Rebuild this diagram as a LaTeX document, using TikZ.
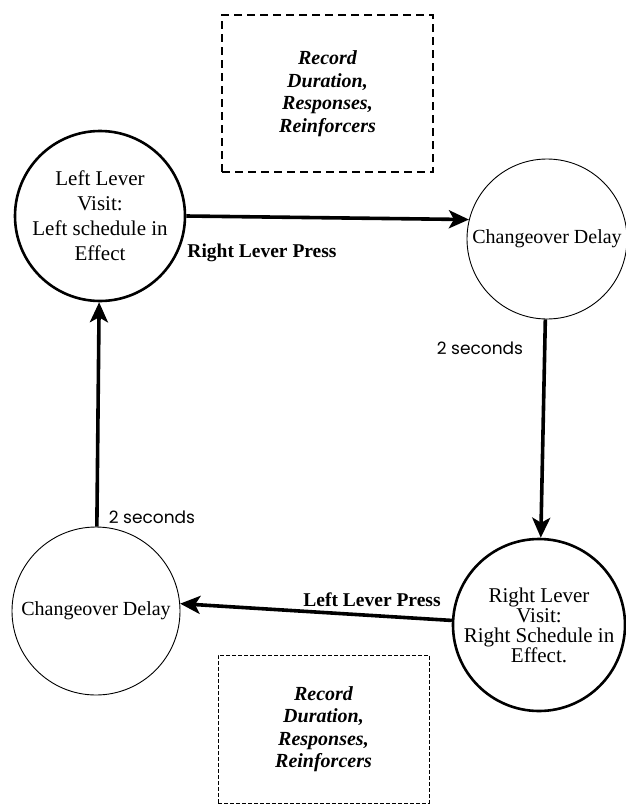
\documentclass[tikz,border=0pt]{standalone}
\usepackage{fontspec}
\setmainfont{Liberation Serif}
\newfontfamily\gothic{Poppins}
\usetikzlibrary{arrows.meta}
\begin{document}
\begin{tikzpicture}[x=1pt,y=-1pt,
  visit/.style={circle,draw,line width=2.6pt,minimum size=#1,inner sep=0pt,align=center,font=\fontsize{21}{25}\selectfont},
  delay/.style={circle,draw,line width=0.9pt,minimum size=#1,inner sep=0pt,font=\fontsize{20}{24}\selectfont},
  press/.style={-{Stealth[length=20pt,width=18pt,inset=5pt]},line width=3.6pt},
  lbl/.style={font=\bfseries\fontsize{19.5}{23}\selectfont},
  secs/.style={font=\gothic\fontsize{17}{20}\selectfont},
  recbox/.style={draw,minimum width=211pt,minimum height=157pt,align=center,font=\bfseries\itshape\fontsize{20}{22.5}\selectfont}]
\useasboundingbox (0,0) rectangle (626,809);
% the four states
\node[visit=170pt] (lvisit) at (100,216) {Left Lever\\Visit:\\Left schedule in\\Effect};
\node[delay=160pt] (cod1) at (547,239) {Changeover Delay};
\node[visit=172pt,font=\fontsize{21}{20}\selectfont] (rvisit) at (539,625) {Right Lever\\Visit:\\Right Schedule in\\Effect.};
\node[delay=168pt] (cod2) at (96,611) {Changeover Delay};
% what gets recorded
\node[recbox,line width=1.8pt,dash pattern=on 8pt off 5pt] (rec1) at (327.5,93.5) {Record\\Duration,\\Responses,\\Reinforcers};
\node[recbox,minimum height=148pt,line width=1pt,dash pattern=on 4pt off 2pt] (rec2) at (323.5,729) {Record\\Duration,\\Responses,\\Reinforcers};
% transitions
\draw[press] (lvisit.east) -- (cod1.166);
\draw[press] (cod1) -- (rvisit);
\draw[press] (rvisit.177) -- (cod2.5);
\draw[press] (cod2) -- (lvisit);
\node[lbl] (rpress) at (262,253) {Right Lever Press};
\node[lbl] (lpress) at (372,600) {Left Lever Press};
\node[secs] (secs1) at (480,348) {2 seconds};
\node[secs] (secs2) at (152,517) {2 seconds};
\end{tikzpicture}
\end{document}
